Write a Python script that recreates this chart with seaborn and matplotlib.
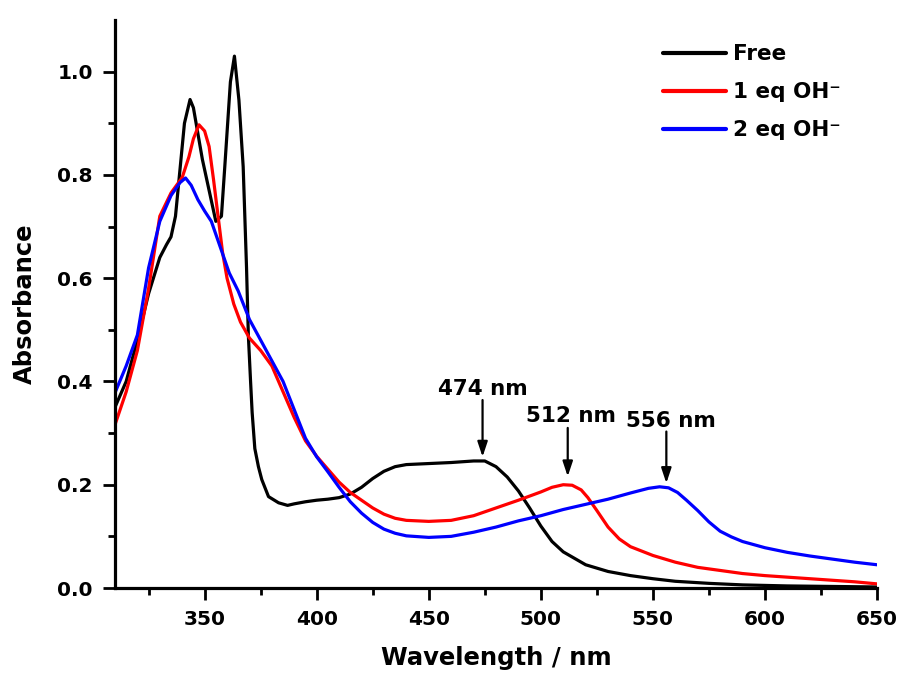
import matplotlib
matplotlib.use("Agg")
import matplotlib.pyplot as plt
import seaborn as sns
import pandas as pd

# Absorption spectra (wavelength in nm, absorbance)
free_wl = [310, 315, 320, 325, 330, 333, 335, 337, 339, 341, 343.5, 345, 347, 349, 352, 355,
           357.5, 359, 361.5, 363.3, 365.3, 367.2, 368.7, 369.5, 370.5, 371.2, 372.4, 374,
           375.5, 378.5, 383, 387, 390, 395, 400, 405, 410, 415, 420, 425, 430, 435, 440,
           450, 460, 470, 475, 480, 485, 490, 495, 500, 505, 510, 520, 530, 540, 550, 560,
           575, 590, 610, 630, 650]
free_abs = [0.35, 0.40, 0.48, 0.57, 0.64, 0.665, 0.68, 0.72, 0.81, 0.90, 0.946, 0.93, 0.88,
            0.83, 0.77, 0.71, 0.72, 0.816, 0.98, 1.03, 0.945, 0.816, 0.62, 0.49, 0.40, 0.34,
            0.27, 0.235, 0.21, 0.177, 0.165, 0.16, 0.163, 0.167, 0.17, 0.172, 0.175, 0.182,
            0.195, 0.212, 0.226, 0.235, 0.239, 0.241, 0.243, 0.246, 0.246, 0.235, 0.215, 0.188,
            0.155, 0.12, 0.09, 0.07, 0.045, 0.032, 0.024, 0.018, 0.013, 0.009, 0.006, 0.004,
            0.003, 0.002]

eq1_wl = [310, 315, 320, 325, 330, 335, 340, 343, 345, 347.5, 350, 352, 354, 356, 358, 360,
          363, 366, 370, 375, 380, 385, 390, 395, 400, 405, 410, 415, 420, 425, 430, 435,
          440, 450, 460, 470, 480, 490, 500, 505, 510, 514, 518, 521, 525, 530, 535, 540,
          550, 560, 570, 580, 590, 600, 620, 640, 650]
eq1_abs = [0.316, 0.38, 0.46, 0.58, 0.72, 0.765, 0.795, 0.835, 0.87, 0.897, 0.885, 0.855, 0.79,
           0.72, 0.65, 0.60, 0.55, 0.515, 0.484, 0.46, 0.43, 0.38, 0.33, 0.285, 0.255, 0.23,
           0.205, 0.185, 0.17, 0.155, 0.143, 0.135, 0.131, 0.129, 0.131, 0.14, 0.155, 0.17,
           0.186, 0.195, 0.2, 0.199, 0.19, 0.175, 0.15, 0.118, 0.095, 0.08, 0.063, 0.05, 0.04,
           0.034, 0.028, 0.024, 0.018, 0.012, 0.008]

eq2_wl = [310, 315, 320, 325, 330, 335, 339, 341.5, 344, 347, 350, 353, 357, 361, 365, 370,
          375, 380, 385, 390, 395, 400, 405, 410, 415, 420, 425, 430, 435, 440, 450, 460,
          470, 480, 490, 500, 510, 520, 530, 540, 548, 553, 557, 561, 565, 570, 575, 580,
          585, 590, 600, 610, 620, 630, 640, 650]
eq2_abs = [0.378, 0.43, 0.49, 0.62, 0.71, 0.76, 0.785, 0.794, 0.78, 0.752, 0.73, 0.71, 0.66,
           0.61, 0.575, 0.52, 0.48, 0.44, 0.40, 0.345, 0.29, 0.254, 0.225, 0.195, 0.167, 0.145,
           0.127, 0.114, 0.106, 0.101, 0.098, 0.1, 0.108, 0.118, 0.13, 0.14, 0.152, 0.162,
           0.172, 0.184, 0.193, 0.196, 0.194, 0.185, 0.17, 0.15, 0.128, 0.11, 0.099, 0.09,
           0.078, 0.069, 0.062, 0.056, 0.05, 0.045]

series_labels = ["Free", "1 eq OH\u207b", "2 eq OH\u207b"]
series_colors = ["#000000", "#ff0000", "#0000ff"]

# Peak annotations: label, arrow x, arrow tail y, arrow tip y, label baseline y
peak_labels = ["474 nm", "512 nm", "556 nm"]
peak_x = [474, 512, 556]
peak_tail = [0.364, 0.31, 0.303]
peak_tip = [0.254, 0.216, 0.203]
peak_text_y = [0.373, 0.322, 0.312]
peak_text_dx = [0.0, 1.5, 2.0]

sns.set_style("ticks")
plt.rcParams["font.family"] = ["DejaVu Sans"]
plt.rcParams["font.weight"] = "bold"
for key in ["text.color", "axes.labelcolor", "xtick.color", "ytick.color", "axes.edgecolor"]:
    plt.rcParams[key] = "black"

df = pd.concat([
    pd.DataFrame({"wl": w, "abs": a, "sample": lab})
    for w, a, lab in zip([free_wl, eq1_wl, eq2_wl], [free_abs, eq1_abs, eq2_abs], series_labels)
])

fig = plt.figure(figsize=(9.01, 6.73), dpi=100)
ax = fig.add_axes([0.1276, 0.1263, 0.8458, 0.844])

sns.lineplot(data=df, x="wl", y="abs", hue="sample", palette=series_colors,
             hue_order=series_labels, linewidth=2.3, ax=ax, sort=False, estimator=None)

ax.set_xlim(310, 650)
ax.set_ylim(0, 1.1)
ax.set_xticks([350, 400, 450, 500, 550, 600, 650])
ax.set_xticks([325, 375, 425, 475, 525, 575, 625], minor=True)
ax.set_yticks([0.0, 0.2, 0.4, 0.6, 0.8, 1.0])
ax.set_yticks([0.1, 0.3, 0.5, 0.7, 0.9], minor=True)
ax.set_yticklabels(["0.0", "0.2", "0.4", "0.6", "0.8", "1.0"])

ax.tick_params(axis="both", which="major", length=8.5, width=2, labelsize=14.5,
               direction="out")
ax.tick_params(axis="x", which="major", pad=7.5)
ax.tick_params(axis="y", which="major", pad=7.5)
ax.tick_params(axis="both", which="minor", length=5, width=2, direction="out")
for lbl in ax.get_xticklabels() + ax.get_yticklabels():
    lbl.set_fontweight("bold")

sns.despine(ax=ax)
for side in ["left", "bottom"]:
    ax.spines[side].set_linewidth(2.3)

ax.set_xlabel("Wavelength / nm", fontsize=17.5, fontweight="bold", labelpad=12)
ax.set_ylabel("Absorbance", fontsize=17.5, fontweight="bold", labelpad=15)

for lab, x, y0, y1, ty, dx in zip(peak_labels, peak_x, peak_tail, peak_tip, peak_text_y,
                                  peak_text_dx):
    ax.annotate("", xy=(x, y1), xytext=(x, y0),
                arrowprops=dict(arrowstyle="-|>,head_length=0.9,head_width=0.3",
                                color="black", lw=1.6, shrinkA=0, shrinkB=0))
    ax.text(x + dx, ty, lab, ha="center", va="baseline", fontsize=15.5, fontweight="bold")

leg = ax.legend(loc="upper left", bbox_to_anchor=(0.719, 0.957), frameon=False,
                fontsize=15.5, handlelength=2.95, handletextpad=0.3, labelspacing=0.83,
                borderpad=0, borderaxespad=0)
for t in leg.get_texts():
    t.set_fontweight("bold")
for h in leg.get_lines():
    h.set_linewidth(3)

fig.savefig("out.png", dpi=100)
